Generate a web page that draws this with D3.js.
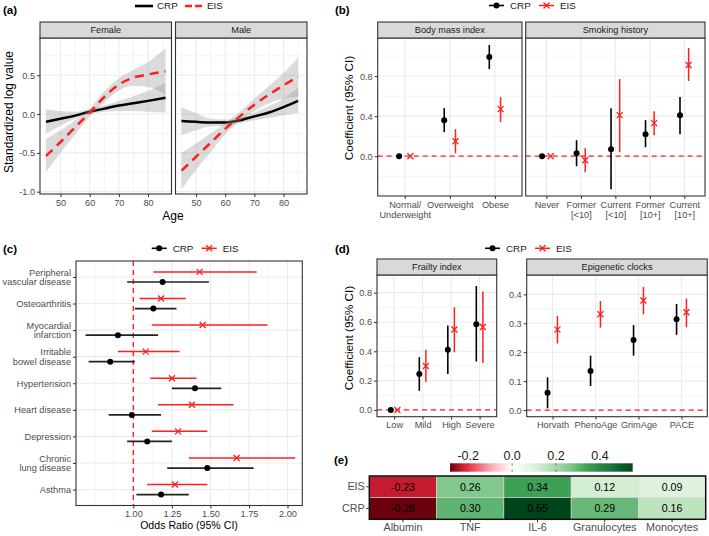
<!DOCTYPE html>
<html><head><meta charset="utf-8">
<script src="https://cdn.jsdelivr.net/npm/d3@7"></script>
<style>
body{margin:0;background:#fff}
svg text{font-family:"Liberation Sans",Arial,sans-serif}
</style>
</head><body>
<svg id="chart" width="709" height="536"></svg>
<script>
// ---------------- DATA ----------------
// (a) smoothed age trends
const agesFemale = [45,50,55,60,65,70,75,80,86];
const crpFemaleFit = [-0.10,-0.06,-0.02,0.03,0.07,0.11,0.14,0.17,0.21];
const crpFemaleLo  = [-0.25,-0.15,-0.06,0.00,0.03,0.04,0.04,0.03,0.02];
const crpFemaleHi  = [0.06,0.04,0.03,0.07,0.11,0.17,0.23,0.30,0.40];
const eisFemaleFit = [-0.54,-0.36,-0.17,0.02,0.22,0.38,0.47,0.51,0.55];
const eisFemaleLo  = [-0.75,-0.50,-0.26,-0.03,0.15,0.30,0.36,0.35,0.25];
const eisFemaleHi  = [-0.32,-0.21,-0.08,0.07,0.29,0.46,0.57,0.67,0.85];
const agesMale = [45,50,55,60,65,70,75,80,85];
const crpMaleFit = [-0.09,-0.10,-0.11,-0.11,-0.08,-0.03,0.02,0.09,0.17];
const crpMaleLo  = [-0.27,-0.21,-0.16,-0.15,-0.12,-0.08,-0.05,-0.02,0.02];
const crpMaleHi  = [0.09,0.01,-0.06,-0.07,-0.04,0.02,0.10,0.20,0.34];
const eisMaleFit = [-0.73,-0.55,-0.37,-0.19,-0.03,0.12,0.25,0.37,0.48];
const eisMaleLo  = [-0.97,-0.72,-0.49,-0.26,-0.09,0.04,0.14,0.20,0.23];
const eisMaleHi  = [-0.50,-0.38,-0.25,-0.12,0.03,0.20,0.36,0.53,0.73];
const sexes = ["Female","Male"];
const ageTicks = [50,60,70,80];
const stdTicks = [-1.0,-0.5,0.0,0.5];

// (b) BMI and smoking
const bmiCats = ["Normal/\nUnderweight","Overweight","Obese"];
const bmiCRP = [0,0.36,0.99], bmiCRPlo = [0,0.24,0.87], bmiCRPhi = [0,0.48,1.11];
const bmiEIS = [0,0.15,0.47], bmiEISlo = [0,0.03,0.34], bmiEIShi = [0,0.27,0.59];
const smokeCats = ["Never","Former\n[<10]","Current\n[<10]","Former\n[10+]","Current\n[10+]"];
const smokeCRP = [0,0.03,0.07,0.22,0.41], smokeCRPlo = [0,-0.10,-0.33,0.09,0.22], smokeCRPhi = [0,0.16,0.48,0.36,0.59];
const smokeEIS = [0,-0.04,0.41,0.33,0.91], smokeEISlo = [0,-0.16,0.04,0.21,0.75], smokeEIShi = [0,0.08,0.77,0.45,1.08];
const coefTicksB = [0,0.4,0.8];

// (c) odds ratios
const diseases = ["Peripheral\nvascular disease","Osteoarthritis","Myocardial\ninfarction","Irritable\nbowel disease","Hypertension","Heart disease","Depression","Chronic\nlung disease","Asthma"];
const orCRP   = [1.19,1.13,0.90,0.85,1.40,0.99,1.09,1.48,1.18];
const orCRPlo = [0.96,1.01,0.69,0.71,1.25,0.84,0.96,1.22,1.02];
const orCRPhi = [1.49,1.28,1.16,1.01,1.57,1.18,1.25,1.78,1.36];
const orEIS   = [1.43,1.18,1.45,1.08,1.25,1.38,1.29,1.67,1.27];
const orEISlo = [1.13,1.04,1.12,0.90,1.11,1.16,1.12,1.36,1.09];
const orEIShi = [1.80,1.34,1.87,1.30,1.41,1.65,1.48,2.05,1.48];
const orTicks = [1.00,1.25,1.50,1.75,2.00];

// (d) frailty and epigenetic clocks
const frailCats = ["Low","Mild","High","Severe"];
const frailCRP = [0,0.245,0.41,0.585], frailCRPlo = [0,0.13,0.245,0.33], frailCRPhi = [0,0.36,0.576,0.845];
const frailEIS = [0,0.30,0.549,0.565], frailEISlo = [0,0.19,0.393,0.32], frailEIShi = [0,0.41,0.70,0.807];
const clockCats = ["Horvath","PhenoAge","GrimAge","PACE"];
const clockCRP = [0.06,0.135,0.242,0.314], clockCRPlo = [0.006,0.083,0.188,0.26], clockCRPhi = [0.113,0.188,0.294,0.367];
const clockEIS = [0.278,0.331,0.379,0.338], clockEISlo = [0.23,0.285,0.331,0.286], clockEIShi = [0.326,0.377,0.426,0.386];
const frailTicks = [0,0.2,0.4,0.6,0.8];
const clockTicks = [0,0.1,0.2,0.3,0.4];

// (e) correlations
const markers = ["Albumin","TNF","IL-6","Granulocytes","Monocytes"];
const scoreRows = ["EIS","CRP"];
const corEIS = [-0.23,0.26,0.34,0.12,0.09];
const corCRP = [-0.28,0.30,0.55,0.29,0.16];
const colorbarTicks = [-0.2,0.0,0.2,0.4];

// ---------------- HELPERS ----------------
const svg = d3.select("#chart");
const TXT = "#4d4d4d", LINE = "#333333", GRIDC = "#ebebeb", RED = "#ff1f1f", BLK = "#1a1a1a";
const TFS = 9.2;

function axisStyled(g, axis, fs) {
  g.call(axis);
  g.attr("font-family", null).attr("font-size", null);
  g.select(".domain").remove();
  g.selectAll(".tick line").attr("stroke", LINE).attr("stroke-width", 1);
  g.selectAll(".tick text").attr("fill", TXT).style("font-size", fs + "px");
  return g;
}
function splitLines(g, lh, left) {
  g.selectAll(".tick text").each(function(d) {
    const t = d3.select(this);
    const lines = String(d).split("\n");
    if (lines.length < 2) return;
    const x = t.attr("x") || 0;
    t.text(null).attr("dy", null);
    lines.forEach((l, i) => {
      const dy = left ? (i === 0 ? (0.32 - (lines.length - 1) * lh / 2) : lh) : (i === 0 ? 0.71 : lh);
      t.append("tspan").attr("x", x).attr("dy", dy + "em").text(l);
    });
  });
}
function bg(x0, x1, y0, y1) {
  svg.append("rect").attr("x", x0).attr("y", y0).attr("width", x1 - x0).attr("height", y1 - y0).attr("fill", "#fff");
}
function gridV(vals, sc, y0, y1, w) {
  vals.forEach(v => svg.append("line").attr("x1", sc(v)).attr("x2", sc(v)).attr("y1", y0).attr("y2", y1)
    .attr("stroke", GRIDC).attr("stroke-width", w));
}
function gridH(vals, sc, x0, x1, w) {
  vals.forEach(v => svg.append("line").attr("y1", sc(v)).attr("y2", sc(v)).attr("x1", x0).attr("x2", x1)
    .attr("stroke", GRIDC).attr("stroke-width", w));
}
function border(x0, x1, y0, y1) {
  svg.append("rect").attr("x", x0).attr("y", y0).attr("width", x1 - x0).attr("height", y1 - y0)
    .attr("fill", "none").attr("stroke", LINE).attr("stroke-width", 1.1);
}
function strip(x0, x1, y0, y1, label) {
  svg.append("rect").attr("x", x0).attr("y", y0).attr("width", x1 - x0).attr("height", y1 - y0)
    .attr("fill", "#d9d9d9").attr("stroke", LINE).attr("stroke-width", 1.1);
  svg.append("text").attr("x", (x0 + x1) / 2).attr("y", (y0 + y1) / 2).attr("dy", "0.35em")
    .attr("text-anchor", "middle").attr("fill", BLK).style("font-size", TFS + "px").text(label);
}
function crossMark(x, y, s, color, sw) {
  svg.append("path").attr("d", `M${x - s},${y - s}L${x + s},${y + s}M${x - s},${y + s}L${x + s},${y - s}`)
    .attr("stroke", color).attr("stroke-width", sw).attr("fill", "none");
}
function vRange(x, sy, est, lo, hi, color, isCross) {
  svg.append("line").attr("x1", x).attr("x2", x).attr("y1", sy(lo)).attr("y2", sy(hi))
    .attr("stroke", color).attr("stroke-width", isCross ? 1.5 : 1.6);
  if (isCross) crossMark(x, sy(est), 3, color, 1.3);
  else svg.append("circle").attr("cx", x).attr("cy", sy(est)).attr("r", 3).attr("fill", "#000");
}
function hRange(y, sx, est, lo, hi, color, isCross) {
  svg.append("line").attr("y1", y).attr("y2", y).attr("x1", sx(lo)).attr("x2", sx(hi))
    .attr("stroke", color).attr("stroke-width", isCross ? 1.5 : 1.7);
  if (isCross) crossMark(sx(est), y, 3, color, 1.3);
  else svg.append("circle").attr("cx", sx(est)).attr("cy", y).attr("r", 3).attr("fill", "#000");
}
function label(x, y, t) {
  svg.append("text").attr("x", x).attr("y", y).attr("dy", "0.35em").attr("font-weight", "bold")
    .attr("fill", "#000").style("font-size", "11.5px").text(t);
}
function yTitle(x, y, t, fs) {
  svg.append("text").attr("transform", `translate(${x},${y}) rotate(-90)`).attr("dy", "0.35em")
    .attr("text-anchor", "middle").attr("fill", "#000").style("font-size", fs + "px").text(t);
}
function xTitle(x, y, t, fs) {
  svg.append("text").attr("x", x).attr("y", y).attr("dy", "0.35em")
    .attr("text-anchor", "middle").attr("fill", "#000").style("font-size", fs + "px").text(t);
}
function pointLegend(x, y) {
  svg.append("line").attr("x1", x).attr("x2", x + 15).attr("y1", y).attr("y2", y).attr("stroke", "#000").attr("stroke-width", 1.6);
  svg.append("circle").attr("cx", x + 7.5).attr("cy", y).attr("r", 3).attr("fill", "#000");
  svg.append("text").attr("x", x + 21).attr("y", y).attr("dy", "0.35em").style("font-size", "9.8px").attr("fill", BLK).text("CRP");
  svg.append("line").attr("x1", x + 50).attr("x2", x + 65).attr("y1", y).attr("y2", y).attr("stroke", RED).attr("stroke-width", 1.5);
  crossMark(x + 57.5, y, 3, RED, 1.3);
  svg.append("text").attr("x", x + 71).attr("y", y).attr("dy", "0.35em").style("font-size", "9.8px").attr("fill", BLK).text("EIS");
}

// ---------------- PANEL (a) ----------------
(function() {
  const y0 = 38, y1 = 194, sy0 = 22;
  const ya = d3.scaleLinear().domain([-1.03, 0.98]).range([y1, y0]);
  const panels = [
    {name: sexes[0], x0: 40, x1: 171.5, ages: agesFemale,
     crp: crpFemaleFit, crpLo: crpFemaleLo, crpHi: crpFemaleHi, eis: eisFemaleFit, eisLo: eisFemaleLo, eisHi: eisFemaleHi},
    {name: sexes[1], x0: 175.5, x1: 307, ages: agesMale,
     crp: crpMaleFit, crpLo: crpMaleLo, crpHi: crpMaleHi, eis: eisMaleFit, eisLo: eisMaleLo, eisHi: eisMaleHi}
  ];
  panels.forEach((p, pi) => {
    const xa = d3.scaleLinear().domain([42.95, 88.05]).range([p.x0, p.x1]);
    bg(p.x0, p.x1, y0, y1);
    gridV([45,55,65,75,85], xa, y0, y1, 0.55);
    gridH([-0.75,-0.25,0.25,0.75], ya, p.x0, p.x1, 0.55);
    gridV(ageTicks, xa, y0, y1, 1.1);
    gridH(stdTicks, ya, p.x0, p.x1, 1.1);
    const idx = d3.range(p.ages.length);
    const area = (lo, hi) => d3.area().x(i => xa(p.ages[i])).y0(i => ya(lo[i])).y1(i => ya(hi[i])).curve(d3.curveMonotoneX)(idx);
    const line = v => d3.line().x(i => xa(p.ages[i])).y(i => ya(v[i])).curve(d3.curveMonotoneX)(idx);
    svg.append("path").attr("d", area(p.crpLo, p.crpHi)).attr("fill", "#999").attr("opacity", 0.35);
    svg.append("path").attr("d", line(p.crp)).attr("fill", "none").attr("stroke", "#000").attr("stroke-width", 2.5);
    svg.append("path").attr("d", area(p.eisLo, p.eisHi)).attr("fill", "#999").attr("opacity", 0.35);
    svg.append("path").attr("d", line(p.eis)).attr("fill", "none").attr("stroke", RED).attr("stroke-width", 2.5)
      .attr("stroke-dasharray", "9,6");
    border(p.x0, p.x1, y0, y1);
    strip(p.x0, p.x1, sy0, y0, p.name);
    axisStyled(svg.append("g").attr("transform", `translate(0,${y1})`),
      d3.axisBottom(xa).tickValues(ageTicks).tickSize(3).tickPadding(2).tickFormat(d3.format("d")), TFS);
    if (pi === 0) axisStyled(svg.append("g").attr("transform", `translate(${p.x0},0)`),
      d3.axisLeft(ya).tickValues(stdTicks).tickSize(3).tickPadding(2).tickFormat(d => d.toFixed(1)), TFS);
  });
  yTitle(8.5, 112, "Standardized log value", 12);
  xTitle(173, 216, "Age", 12);
  // legend
  svg.append("line").attr("x1", 135).attr("x2", 153).attr("y1", 6).attr("y2", 6).attr("stroke", "#000").attr("stroke-width", 2.6);
  svg.append("text").attr("x", 157).attr("y", 6).attr("dy", "0.35em").style("font-size", "9.8px").attr("fill", BLK).text("CRP");
  svg.append("line").attr("x1", 185).attr("x2", 202).attr("y1", 6).attr("y2", 6).attr("stroke", RED).attr("stroke-width", 2.6).attr("stroke-dasharray", "7,3");
  svg.append("text").attr("x", 207).attr("y", 6).attr("dy", "0.35em").style("font-size", "9.8px").attr("fill", BLK).text("EIS");
  label(3, 10, "(a)");
})();

// ---------------- PANEL (b) ----------------
(function() {
  const y0 = 38, y1 = 196, sy0 = 22;
  const yb = d3.scaleLinear().domain([-0.397, 1.18]).range([y1, y0]);
  const facets = [
    {name: "Body mass index", x0: 377.7, x1: 522, cats: bmiCats, crp: bmiCRP, crpLo: bmiCRPlo, crpHi: bmiCRPhi, eis: bmiEIS, eisLo: bmiEISlo, eisHi: bmiEIShi},
    {name: "Smoking history", x0: 525.7, x1: 705, cats: smokeCats, crp: smokeCRP, crpLo: smokeCRPlo, crpHi: smokeCRPhi, eis: smokeEIS, eisLo: smokeEISlo, eisHi: smokeEIShi}
  ];
  facets.forEach((f, fi) => {
    const xb = d3.scalePoint().domain(f.cats).range([f.x0, f.x1]).padding(0.6);
    const st = xb.step();
    bg(f.x0, f.x1, y0, y1);
    gridH([-0.2,0.2,0.6,1.0], yb, f.x0, f.x1, 0.55);
    gridH(coefTicksB, yb, f.x0, f.x1, 1.1);
    gridV(f.cats, xb, y0, y1, 1.1);
    svg.append("line").attr("x1", f.x0).attr("x2", f.x1).attr("y1", yb(0)).attr("y2", yb(0))
      .attr("stroke", RED).attr("stroke-width", 1.3).attr("stroke-dasharray", "5,4");
    f.cats.forEach((c, i) => {
      vRange(xb(c) - st * 0.125, yb, f.crp[i], f.crpLo[i], f.crpHi[i], "#000", false);
      vRange(xb(c) + st * 0.125, yb, f.eis[i], f.eisLo[i], f.eisHi[i], RED, true);
    });
    border(f.x0, f.x1, y0, y1);
    strip(f.x0, f.x1, sy0, y0, f.name);
    const ax = axisStyled(svg.append("g").attr("transform", `translate(0,${y1})`),
      d3.axisBottom(xb).tickSize(3).tickPadding(2), TFS);
    splitLines(ax, 1.16, false);
    if (fi === 0) axisStyled(svg.append("g").attr("transform", `translate(${f.x0},0)`),
      d3.axisLeft(yb).tickValues(coefTicksB).tickSize(3).tickPadding(2).tickFormat(d => d.toFixed(1)), TFS);
  });
  yTitle(348.5, 108, "Coefficient (95% CI)", 11.7);
  pointLegend(489, 5.5);
  label(335, 10, "(b)");
})();

// ---------------- PANEL (c) ----------------
(function() {
  const x0 = 76, x1 = 302.3, y0 = 261, y1 = 505.5;
  const xc = d3.scaleLinear().domain([0.628, 2.096]).range([x0, x1]);
  const yc = d3.scalePoint().domain(diseases).range([y0, y1]).padding(0.6);
  const st = yc.step();
  bg(x0, x1, y0, y1);
  gridV([0.75,0.875,1.125,1.375,1.625,1.875], xc, y0, y1, 0.55);
  gridV(orTicks, xc, y0, y1, 1.1);
  gridH(diseases, yc, x0, x1, 1.1);
  svg.append("line").attr("x1", xc(1)).attr("x2", xc(1)).attr("y1", y0).attr("y2", y1)
    .attr("stroke", RED).attr("stroke-width", 1.4).attr("stroke-dasharray", "5,4");
  diseases.forEach((d, i) => {
    hRange(yc(d) + st * 0.19, xc, orCRP[i], orCRPlo[i], orCRPhi[i], "#222", false);
    hRange(yc(d) - st * 0.19, xc, orEIS[i], orEISlo[i], orEIShi[i], RED, true);
  });
  border(x0, x1, y0, y1);
  axisStyled(svg.append("g").attr("transform", `translate(0,${y1})`),
    d3.axisBottom(xc).tickValues(orTicks).tickSize(3).tickPadding(2).tickFormat(d => d.toFixed(2)), TFS);
  const ay = axisStyled(svg.append("g").attr("transform", `translate(${x0},0)`),
    d3.axisLeft(yc).tickSize(3).tickPadding(2), TFS);
  splitLines(ay, 1.02, true);
  xTitle(189, 525, "Odds Ratio (95% CI)", 10.6);
  pointLegend(151.7, 248.3);
  label(3, 249, "(c)");
})();

// ---------------- PANEL (d) ----------------
(function() {
  const y0 = 275, y1 = 416.7, sy0 = 259;
  const facets = [
    {name: "Frailty index", x0: 377, x1: 496.7, cats: frailCats, ticks: frailTicks, minor: [0.1,0.3,0.5,0.7,0.9],
     dom: [-0.046, 0.92], crp: frailCRP, crpLo: frailCRPlo, crpHi: frailCRPhi, eis: frailEIS, eisLo: frailEISlo, eisHi: frailEIShi},
    {name: "Epigenetic clocks", x0: 526.7, x1: 707.3, cats: clockCats, ticks: clockTicks, minor: [0.05,0.15,0.25,0.35,0.45],
     dom: [-0.023, 0.467], crp: clockCRP, crpLo: clockCRPlo, crpHi: clockCRPhi, eis: clockEIS, eisLo: clockEISlo, eisHi: clockEIShi}
  ];
  facets.forEach(f => {
    const xd = d3.scalePoint().domain(f.cats).range([f.x0, f.x1]).padding(0.6);
    const yd = d3.scaleLinear().domain(f.dom).range([y1, y0]);
    const st = xd.step();
    bg(f.x0, f.x1, y0, y1);
    gridH(f.minor, yd, f.x0, f.x1, 0.55);
    gridH(f.ticks, yd, f.x0, f.x1, 1.1);
    gridV(f.cats, xd, y0, y1, 1.1);
    svg.append("line").attr("x1", f.x0).attr("x2", f.x1).attr("y1", yd(0)).attr("y2", yd(0))
      .attr("stroke", RED).attr("stroke-width", 1.3).attr("stroke-dasharray", "5,4");
    f.cats.forEach((c, i) => {
      vRange(xd(c) - st * 0.115, yd, f.crp[i], f.crpLo[i], f.crpHi[i], "#000", false);
      vRange(xd(c) + st * 0.115, yd, f.eis[i], f.eisLo[i], f.eisHi[i], RED, true);
    });
    border(f.x0, f.x1, y0, y1);
    strip(f.x0, f.x1, sy0, y0, f.name);
    axisStyled(svg.append("g").attr("transform", `translate(0,${y1})`),
      d3.axisBottom(xd).tickSize(3).tickPadding(2), TFS);
    axisStyled(svg.append("g").attr("transform", `translate(${f.x0},0)`),
      d3.axisLeft(yd).tickValues(f.ticks).tickSize(3).tickPadding(2).tickFormat(d => d.toFixed(1)), TFS);
  });
  yTitle(348.5, 338, "Coefficient (95% CI)", 11.7);
  pointLegend(485, 248.3);
  label(335, 249, "(d)");
})();

// ---------------- PANEL (e) ----------------
(function() {
  const x0 = 369.3, x1 = 705.7, y0 = 476, y1 = 519.3;
  const heat = d3.scaleLinear()
    .domain([-0.28, -0.21, -0.1, 0, 0.12, 0.26, 0.34, 0.45, 0.55])
    .range(["#6b000f", "#e8273a", "#f7a8b0", "#ffffff", "#d4eed4", "#82c88c", "#3ca055", "#17753a", "#00441b"])
    .clamp(true);
  const xe = d3.scaleBand().domain(markers).range([x0, x1]);
  const ye = d3.scaleBand().domain(scoreRows).range([y0, y1]);
  const cells = [];
  markers.forEach((m, i) => { cells.push({r: "EIS", m, v: corEIS[i]}); cells.push({r: "CRP", m, v: corCRP[i]}); });
  svg.selectAll("rect.cell").data(cells).join("rect").attr("class", "cell")
    .attr("x", d => xe(d.m)).attr("y", d => ye(d.r)).attr("width", xe.bandwidth()).attr("height", ye.bandwidth())
    .attr("fill", d => heat(d.v)).attr("stroke", "#d8d8d8").attr("stroke-width", 0.6);
  svg.selectAll("text.cellv").data(cells).join("text").attr("class", "cellv")
    .attr("x", d => xe(d.m) + xe.bandwidth() / 2).attr("y", d => ye(d.r) + ye.bandwidth() / 2).attr("dy", "0.35em")
    .attr("text-anchor", "middle").attr("fill", "#000").style("font-size", "10.6px").text(d => d.v.toFixed(2));
  svg.append("rect").attr("x", x0).attr("y", y0).attr("width", x1 - x0).attr("height", y1 - y0)
    .attr("fill", "none").attr("stroke", "#111").attr("stroke-width", 1.5);
  axisStyled(svg.append("g").attr("transform", `translate(0,${y1})`), d3.axisBottom(xe).tickSize(3).tickPadding(1.5), 10.8);
  axisStyled(svg.append("g").attr("transform", `translate(${x0},0)`), d3.axisLeft(ye).tickSize(3).tickPadding(1.5), 10.8);
  // colorbar
  const cb0 = 450, cb1 = 632.7, cby0 = 463.3, cby1 = 471.7;
  const cbx = d3.scaleLinear().domain([-0.283, 0.549]).range([cb0, cb1]);
  const grad = svg.append("defs").append("linearGradient").attr("id", "cbgrad").attr("x1", "0%").attr("x2", "100%");
  d3.range(0, 41).forEach(k => {
    const v = -0.283 + (0.549 + 0.283) * k / 40;
    grad.append("stop").attr("offset", (k / 40 * 100) + "%").attr("stop-color", heat(v));
  });
  svg.append("rect").attr("x", cb0).attr("y", cby0).attr("width", cb1 - cb0).attr("height", cby1 - cby0)
    .attr("fill", "url(#cbgrad)");
  colorbarTicks.forEach(t => {
    svg.append("line").attr("x1", cbx(t)).attr("x2", cbx(t)).attr("y1", cby0).attr("y2", cby0 + 2).attr("stroke", "#555").attr("stroke-width", 0.8);
    svg.append("line").attr("x1", cbx(t)).attr("x2", cbx(t)).attr("y1", cby1 - 2).attr("y2", cby1).attr("stroke", "#555").attr("stroke-width", 0.8);
    svg.append("text").attr("x", cbx(t)).attr("y", 456).attr("dy", "0.35em").attr("text-anchor", "middle")
      .attr("fill", "#1a1a1a").style("font-size", "12.5px").text(t.toFixed(1));
  });
  label(334, 460, "(e)");
})();
</script>
</body></html>
